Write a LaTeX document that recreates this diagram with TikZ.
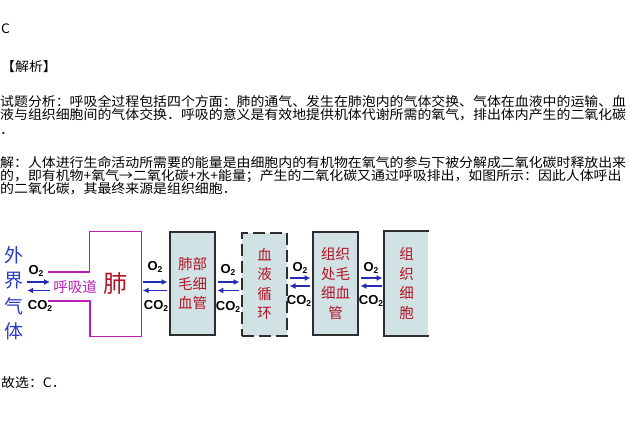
\documentclass[tikz,border=0pt]{standalone}
\usepackage{fontspec}
\usepackage{xcolor}
\usetikzlibrary{arrows.meta}

\newfontfamily\cjk[FakeStretch=1.07]{Noto Sans CJK SC}
\newfontfamily\cjkbox{Noto Sans CJK SC}
\newfontfamily\gasfont{Liberation Sans}

\definecolor{flowblue}{RGB}{35,45,180}
\definecolor{outblue}{RGB}{45,60,200}
\definecolor{lungpurple}{RGB}{185,30,185}
\definecolor{boxred}{RGB}{180,20,40}
\definecolor{boxfill}{RGB}{208,226,228}
\definecolor{boxline}{RGB}{45,45,45}

\newcommand{\gas}[1]{{\gasfont\bfseries #1\raisebox{-0.4ex}{\fontsize{8.5}{8.5}\selectfont 2}}}

\tikzset{
  textline/.style={anchor=west, inner sep=0pt, font=\cjk\fontsize{13}{13}\selectfont},
  unit/.style={draw=boxline, line width=1.8pt, fill=boxfill, minimum width=45, minimum height=103,
    inner sep=0pt, text=boxred, align=center, font=\cjkbox\fontsize{14.5}{19.5}\selectfont},
  flow/.style={draw=flowblue, line width=1.9pt, -{Latex[length=6pt,width=6pt]}, shorten <=2pt, shorten >=1.5pt},
  gastag/.style={inner sep=0pt, font=\fontsize{13}{13}\selectfont}
}

\begin{document}
\begin{tikzpicture}[x=1pt,y=1pt,yscale=-1]
\useasboundingbox (0,0) rectangle (630,434);

% text of the answer
\node[textline] (ans) at (1,29) {C};
\node[textline] (head) at (1,67) {【解析】};
\node[textline] (a1) at (0,102) {试题分析：呼吸全过程包括四个方面：肺的通气、发生在肺泡内的气体交换、气体在血液中的运输、血};
\node[textline] (a2) at (0,115) {液与组织细胞间的气体交换．呼吸的意义是有效地提供机体代谢所需的氧气，排出体内产生的二氧化碳};
\node[textline] (a3) at (0,133) {．};
\node[textline] (b1) at (0,163) {解：人体进行生命活动所需要的能量是由细胞内的有机物在氧气的参与下被分解成二氧化碳时释放出来};
\node[textline] (b2) at (0,176) {的，即有机物+氧气→二氧化碳+水+能量；产生的二氧化碳又通过呼吸排出，如图所示：因此人体呼出};
\node[textline] (b3) at (0,189) {的二氧化碳，其最终来源是组织细胞．};
\node[textline] (pick) at (1,383) {故选：C．};

% diagram
\node[inner sep=0pt, text=outblue, align=center, font=\cjkbox\fontsize{19}{25.5}\selectfont] (outside) at (14,293) {外\\界\\气\\体};
\node[inner sep=0pt, text=lungpurple, font=\cjkbox\fontsize{14.5}{14.5}\selectfont] (airway) at (75,287) {呼吸道};
\node[inner sep=0pt, minimum width=51, minimum height=104, text=boxred, font=\cjkbox\fontsize{24}{24}\selectfont] (lung) at (115.5,284) {肺};
\draw[lungpurple, line width=1.3pt] (48,272) -| (lung.north west) -| (lung.south east) -| (90,301) -- (48,301);

\node[unit] (pulcap) at (192.5,283.5) {肺部\\毛细\\血管};
\node[unit, dash pattern=on 12pt off 5pt, line width=2pt] (blood) at (264.5,284) {血\\液\\循\\环};
\node[unit] (tiscap) at (335.5,283.5) {组织\\处毛\\细血\\管};
\node[unit, draw=none, minimum width=43] (cell) at (406.5,283.5) {组\\织\\细\\胞};
\draw[boxline, line width=1.8pt] (cell.north east) -- (cell.north west) -- (cell.south west) -- (cell.south east);

\coordinate (upA) at (0,282);
\coordinate (downA) at (0,290.5);
\coordinate (upB) at (0,278);
\coordinate (downB) at (0,286);

\draw[flow, shorten <=3.5pt, shorten >=3pt] (outside.east |- upA) -- (airway.west |- upA);
\draw[flow, shorten >=3.5pt, shorten <=3pt] (airway.west |- downA) -- (outside.east |- downA);
\draw[flow] (lung.east |- upA) -- (pulcap.west |- upA);
\draw[flow] (pulcap.west |- downA) -- (lung.east |- downA);
\draw[flow] (pulcap.east |- upA) -- (blood.west |- upA);
\draw[flow] (blood.west |- downA) -- (pulcap.east |- downA);
\draw[flow] (blood.east |- upB) -- (tiscap.west |- upB);
\draw[flow] (tiscap.west |- downB) -- (blood.east |- downB);
\draw[flow] (tiscap.east |- upB) -- (cell.west |- upB);
\draw[flow] (cell.west |- downB) -- (tiscap.east |- downB);

\node[gastag] (o1) at (36,271) {\gas{O}};
\node[gastag] (c1) at (40,306) {\gas{CO}};
\node[gastag] (o2) at (155,267) {\gas{O}};
\node[gastag] (c2) at (156,306) {\gas{CO}};
\node[gastag] (o3) at (228,270) {\gas{O}};
\node[gastag] (c3) at (228,307) {\gas{CO}};
\node[gastag] (o4) at (300,268) {\gas{O}};
\node[gastag] (c4) at (299,301) {\gas{CO}};
\node[gastag] (o5) at (371,268) {\gas{O}};
\node[gastag] (c5) at (371,301) {\gas{CO}};
\end{tikzpicture}
\end{document}
